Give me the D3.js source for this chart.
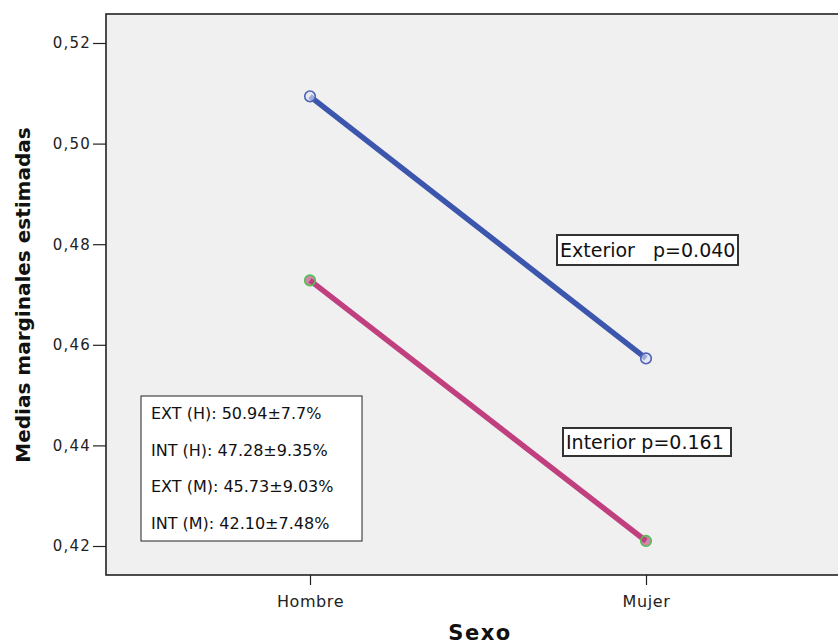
<!DOCTYPE html>
<html>
<head>
<meta charset="utf-8">
<script src="https://cdn.jsdelivr.net/npm/d3@7"></script>
<style>
  html, body { margin: 0; padding: 0; background: #fff; }
  svg { display: block; }
</style>
</head>
<body>
<div id="chart"></div>
<script>
// Estimated marginal means by sex
const categories = ["Hombre", "Mujer"];
const exterior = [0.5094, 0.4573];
const interior = [0.4728, 0.4210];
const yTicks = [0.42, 0.44, 0.46, 0.48, 0.50, 0.52];
const seriesLabels = ["Exterior   p=0.040", "Interior p=0.161"];
const statLines = [
  "EXT (H): 50.94\u00b17.7%",
  "INT (H): 47.28\u00b19.35%",
  "EXT (M): 45.73\u00b19.03%",
  "INT (M): 42.10\u00b17.48%"
];

const W = 838, H = 644;
const frame = { left: 106, top: 14, right: 846, bottom: 575 };
const FONT = "DejaVu Sans, Verdana, sans-serif";

const svg = d3.select("#chart").append("svg")
  .attr("width", W).attr("height", H);

// plot background and frame
svg.append("rect")
  .attr("x", frame.left).attr("y", frame.top)
  .attr("width", frame.right - frame.left).attr("height", frame.bottom - frame.top)
  .attr("fill", "#f0f0f0").attr("stroke", "#222").attr("stroke-width", 1.6);

const x = d3.scalePoint().domain(categories).range([310, 646]);
const y = d3.scaleLinear().domain([0.42, 0.52]).range([546, 43]);

// y axis
const yAxis = svg.append("g")
  .attr("transform", `translate(${frame.left},0)`)
  .call(d3.axisLeft(y).tickValues(yTicks).tickSize(13).tickPadding(2)
    .tickFormat(d => d3.format(".2f")(d).replace(".", ",")));
yAxis.select(".domain").remove();
yAxis.selectAll("line").attr("stroke", "#222").attr("stroke-width", 1.2);
yAxis.selectAll("text").attr("font-family", FONT)
  .attr("font-size", 15).attr("letter-spacing", 1.2).attr("fill", "#222");

// x axis
const xAxis = svg.append("g")
  .attr("transform", `translate(0,${frame.bottom})`)
  .call(d3.axisBottom(x).tickSize(10).tickPadding(11));
xAxis.select(".domain").remove();
xAxis.selectAll("line").attr("stroke", "#222").attr("stroke-width", 1.2);
xAxis.selectAll("text").attr("font-family", FONT)
  .attr("font-size", 16).attr("letter-spacing", 0.6).attr("fill", "#222");

// axis titles
svg.append("text")
  .attr("transform", `translate(30,295) rotate(-90)`)
  .attr("text-anchor", "middle")
  .attr("font-family", FONT)
  .attr("font-weight", "bold").attr("font-size", 20).attr("fill", "#111")
  .text("Medias marginales estimadas");

svg.append("text")
  .attr("x", 480).attr("y", 640)
  .attr("text-anchor", "middle")
  .attr("font-family", FONT)
  .attr("font-weight", "bold").attr("font-size", 21)
  .attr("letter-spacing", 1.5).attr("fill", "#111")
  .text("Sexo");

// series lines and markers
const line = d3.line().x((d, i) => x(categories[i])).y(d => y(d));
const series = [
  { values: exterior, color: "#3d56ad", marker: "#4e63b8", fill: "#dfe3f3" },
  { values: interior, color: "#c0407f", marker: "#4fc150", fill: "#c0407f" }
];
series.forEach(s => {
  svg.append("path").datum(s.values)
    .attr("d", line).attr("fill", "none")
    .attr("stroke", s.color).attr("stroke-width", 5.5);
  svg.selectAll(null).data(s.values).enter().append("circle")
    .attr("cx", (d, i) => x(categories[i])).attr("cy", d => y(d))
    .attr("r", 5.3).attr("fill", s.fill).attr("fill-opacity", 0.6)
    .attr("stroke", s.marker).attr("stroke-width", 1.6);
});

// series labels with framed boxes
const labelBoxes = [
  { text: seriesLabels[0], x: 557, y: 235, w: 181, h: 30, base: 22 },
  { text: seriesLabels[1], x: 563, y: 428, w: 168, h: 28, base: 21 }
];
labelBoxes.forEach(b => {
  svg.append("rect").attr("x", b.x).attr("y", b.y)
    .attr("width", b.w).attr("height", b.h)
    .attr("fill", "#fff").attr("stroke", "#333").attr("stroke-width", 2);
  svg.append("text").attr("x", b.x + 3).attr("y", b.y + b.base)
    .attr("font-family", FONT).attr("font-size", 19)
    .attr("fill", "#111")
    .style("white-space", "pre")
    .text(b.text);
});

// summary statistics box
svg.append("rect").attr("x", 141).attr("y", 396)
  .attr("width", 221).attr("height", 145)
  .attr("fill", "#fff").attr("stroke", "#222").attr("stroke-width", 1);
svg.selectAll(null).data(statLines).enter().append("text")
  .attr("x", 151).attr("y", (d, i) => 419 + i * 36.7)
  .attr("font-family", FONT).attr("font-size", 16)
  .attr("fill", "#111")
  .text(d => d);
</script>
</body>
</html>
